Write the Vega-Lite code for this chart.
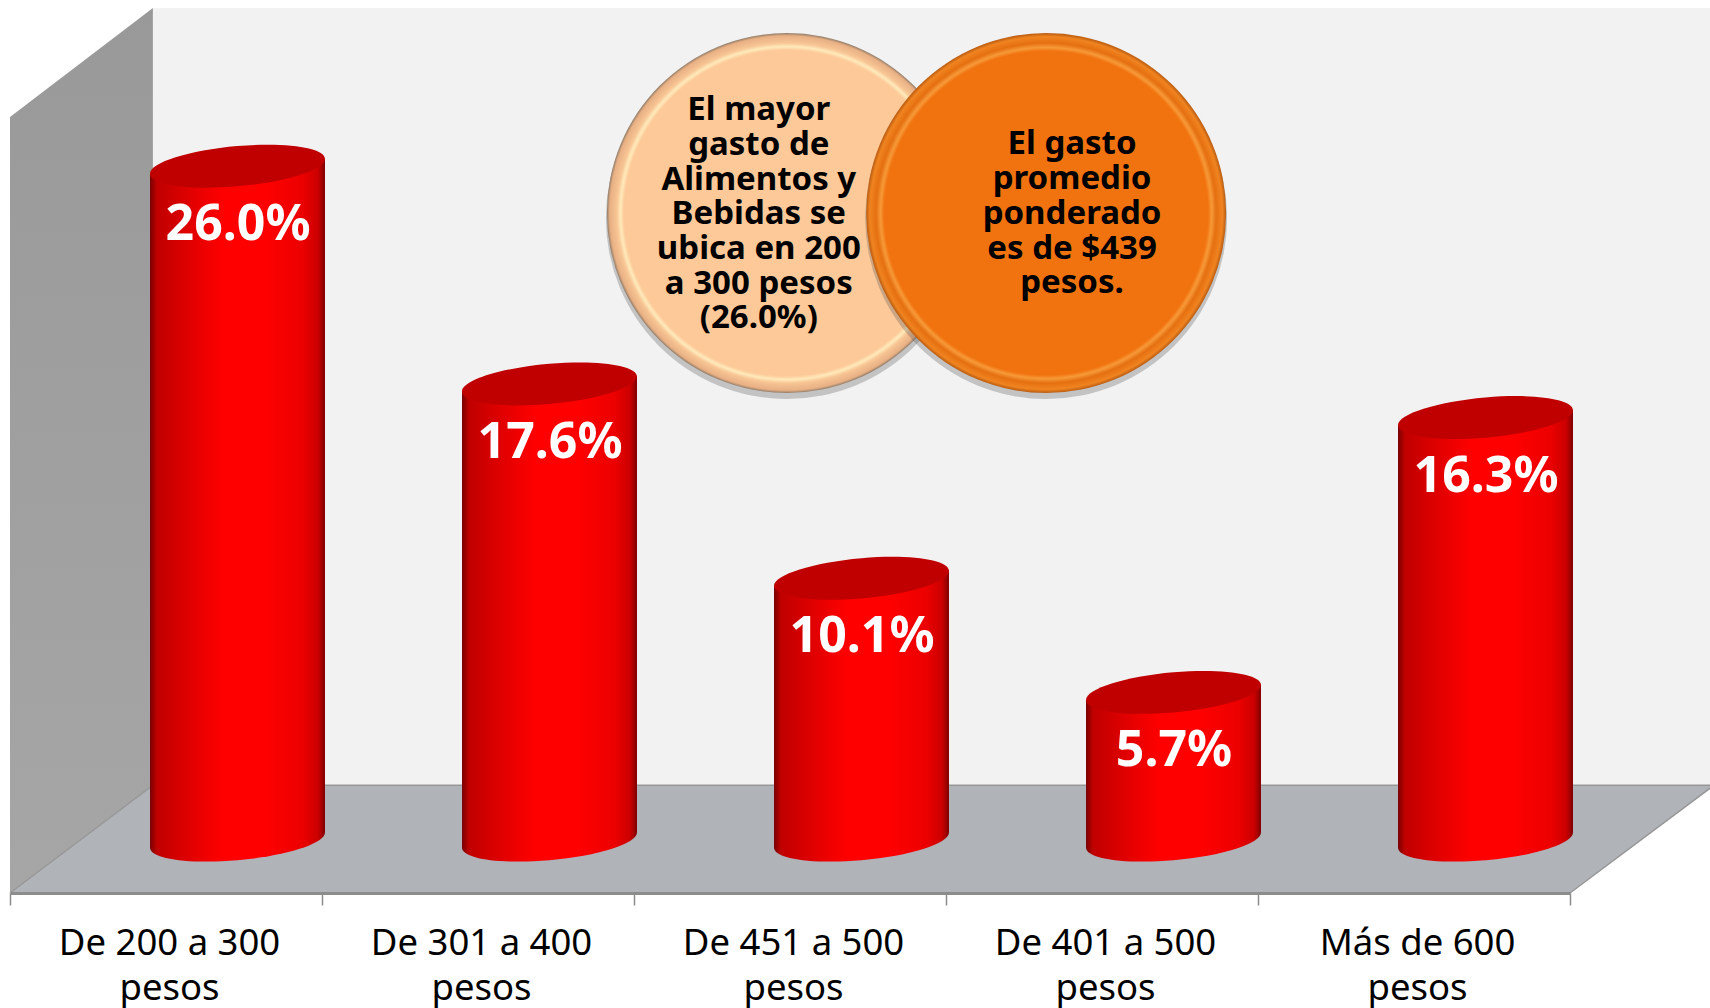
{
"$schema":"https://vega.github.io/schema/vega-lite/v6.json",
"autosize":"none","width":1710,"height":893,
"padding":{"left":0,"top":0,"right":0,"bottom":115},
"background":"white",
"config":{"view":{"stroke":null}},
"datasets":{
"bars":[{"rango":"De 200 a 300 pesos","pct":26.0,"etiqueta":"26.0%"},{"rango":"De 301 a 400 pesos","pct":17.6,"etiqueta":"17.6%"},{"rango":"De 451 a 500 pesos","pct":10.1,"etiqueta":"10.1%"},{"rango":"De 401 a 500 pesos","pct":5.7,"etiqueta":"5.7%"},{"rango":"Más de 600 pesos","pct":16.3,"etiqueta":"16.3%"}],
"backwall":[{"u":0.458,"top":32.1,"bottom":2.12},{"u":5.462,"top":32.1,"bottom":2.12}],
"sidewall":[{"u":0,"top":27.9,"bottom":-2.04},{"u":0.458,"top":32.1,"bottom":2.12}],
"floor":[{"u":0,"top":-2.04,"bottom":-2.04},{"u":0.458,"top":2.12,"bottom":-2.04},{"u":5,"top":2.12,"bottom":-2.04},{"u":5.462,"top":2.12,"bottom":2.12}],
"edges":[{"e":"a","u":0,"v":-2.04},{"e":"a","u":0.458,"v":2.12},{"e":"a","u":5.462,"v":2.12},{"e":"b","u":5,"v":-2.04},{"e":"b","u":5.462,"v":2.12}],
"b1":[{"u":2.49,"v":24.19}],
"b2":[{"u":3.321,"v":24.19}],
"t1":[{"u":2.4,"v":27.77,"txt":["El mayor","gasto de","Alimentos y","Bebidas se","ubica en 200","a 300 pesos","(26.0%)"]}],
"t2":[{"u":3.404,"v":26.45,"txt":["El gasto","promedio","ponderado","es de $439","pesos."]}]
},
"layer":[
{"data":{"name":"backwall"},"mark":{"type":"area","fill":"#f2f2f2"},
 "encoding":{"x":{"field":"u","type":"quantitative","axis":null,"scale":{"domain":[0,5],"range":[10,1570],"nice":false,"zero":false}},
 "y":{"field":"top","type":"quantitative","axis":null,"scale":{"domain":[-2.04,32.41],"nice":false,"zero":false}},"y2":{"field":"bottom"}}},
{"data":{"name":"sidewall"},"mark":{"type":"area","fill":{"gradient":"linear","x1":0,"y1":0,"x2":0,"y2":1,"stops":[{"offset":0,"color":"#999999"},{"offset":1,"color":"#a6a6a6"}]}},
 "encoding":{"x":{"field":"u","type":"quantitative","axis":null,"scale":{"domain":[0,5],"range":[10,1570],"nice":false,"zero":false}},
 "y":{"field":"top","type":"quantitative","axis":null},"y2":{"field":"bottom"}}},
{"data":{"name":"floor"},"mark":{"type":"area","fill":"#b0b3b8"},
 "encoding":{"x":{"field":"u","type":"quantitative","axis":null,"scale":{"domain":[0,5],"range":[10,1570],"nice":false,"zero":false}},
 "y":{"field":"top","type":"quantitative","axis":null},"y2":{"field":"bottom"}}},
{"data":{"name":"edges"},"mark":{"type":"line","stroke":"#979797","strokeWidth":1.5},
 "encoding":{"x":{"field":"u","type":"quantitative","axis":null,"scale":{"domain":[0,5],"range":[10,1570],"nice":false,"zero":false}},
 "y":{"field":"v","type":"quantitative","axis":null},"detail":{"field":"e"}}},
{"data":{"name":"bars"},"mark":{"type":"bar","width":175,"xOffset":71.5,"yOffset":8,"y2Offset":-10,
  "fill":{"gradient":"linear","x1":0,"y1":0,"x2":1,"y2":0,"stops":[{"offset":0,"color":"#7a0000"},{"offset":0.04,"color":"#c00000"},{"offset":0.2,"color":"#dc0000"},{"offset":0.42,"color":"#ff0000"},{"offset":0.65,"color":"#ff0000"},{"offset":0.87,"color":"#ec0000"},{"offset":0.96,"color":"#cc0000"},{"offset":1,"color":"#800000"}]}},
 "encoding":{"x":{"field":"rango","type":"nominal","sort":null,"scale":{"range":[10,1570],"paddingInner":0,"paddingOuter":0},
   "axis":{"title":null,"zindex":1,"tickBand":"extent","labelAngle":0,"domainColor":"#8c8c8c","domainWidth":3,"tickColor":"#8c8c8c","tickWidth":1.5,"tickSize":12,"labelFont":"Noto Sans","labelFontSize":36.5,"labelColor":"#000000","labelPadding":20,"labelLineHeight":45,"labelOffset":3,"labelLimit":500,"labelOverlap":false,"labelBound":false,"labelExpr":"datum.label ? [slice(datum.label,0,-6),'pesos'] : ''"}},
  "y":{"field":"pct","type":"quantitative","axis":null},"y2":{"datum":0}}},
{"data":{"name":"bars"},"mark":{"type":"point","filled":true,"opacity":1,"size":30625,"xOffset":71.5,"shape":"M-1,-0.3L1,-0.3L1,-0.086C1,0.041,0.552,0.1825,0,0.23C-0.552,0.2775,-1,0.213,-1,0.086Z",
  "fill":{"gradient":"linear","x1":0,"y1":0,"x2":1,"y2":0,"stops":[{"offset":0,"color":"#7a0000"},{"offset":0.04,"color":"#c00000"},{"offset":0.2,"color":"#dc0000"},{"offset":0.42,"color":"#ff0000"},{"offset":0.65,"color":"#ff0000"},{"offset":0.87,"color":"#ec0000"},{"offset":0.96,"color":"#cc0000"},{"offset":1,"color":"#800000"}]}},
 "encoding":{"x":{"field":"rango","type":"nominal","sort":null,"axis":null,"scale":{"range":[10,1570],"paddingInner":0,"paddingOuter":0}},
  "y":{"datum":0,"type":"quantitative","axis":null}}},
{"data":{"name":"bars"},"mark":{"type":"point","filled":true,"opacity":1,"size":30625,"xOffset":71.5,"shape":"M-1,0.086L1,-0.086L1,0.3L-1,0.3Z",
  "fill":{"gradient":"linear","x1":0,"y1":0,"x2":1,"y2":0,"stops":[{"offset":0,"color":"#7a0000"},{"offset":0.04,"color":"#c00000"},{"offset":0.2,"color":"#dc0000"},{"offset":0.42,"color":"#ff0000"},{"offset":0.65,"color":"#ff0000"},{"offset":0.87,"color":"#ec0000"},{"offset":0.96,"color":"#cc0000"},{"offset":1,"color":"#800000"}]}},
 "encoding":{"x":{"field":"rango","type":"nominal","sort":null,"axis":null,"scale":{"range":[10,1570],"paddingInner":0,"paddingOuter":0}},
  "y":{"field":"pct","type":"quantitative","axis":null}}},
{"data":{"name":"bars"},"mark":{"type":"point","filled":true,"opacity":1,"size":30625,"xOffset":71.5,"fill":"#c00000","shape":"M1,-0.086C1,0.041,0.552,0.1825,0,0.23C-0.552,0.2775,-1,0.213,-1,0.086C-1,-0.041,-0.552,-0.1825,0,-0.23C0.552,-0.2775,1,-0.213,1,-0.086Z"},
 "encoding":{"x":{"field":"rango","type":"nominal","sort":null,"axis":null,"scale":{"range":[10,1570],"paddingInner":0,"paddingOuter":0}},
  "y":{"field":"pct","type":"quantitative","axis":null}}},
{"data":{"name":"bars"},"mark":{"type":"text","font":"Noto Sans","fontWeight":"bold","fontSize":50,"color":"#ffffff","align":"center","baseline":"alphabetic","dx":72,"dy":74},
 "encoding":{"x":{"field":"rango","type":"nominal","sort":null,"axis":null,"scale":{"range":[10,1570],"paddingInner":0,"paddingOuter":0}},
  "y":{"field":"pct","type":"quantitative","axis":null},"text":{"field":"etiqueta"}}},
{"data":{"name":"b1"},"mark":{"type":"point","filled":true,"size":131000,"shape":"circle","yOffset":5,"fill":"#555555","opacity":0.3},
 "encoding":{"x":{"field":"u","type":"quantitative","axis":null,"scale":{"domain":[0,5],"range":[10,1570],"nice":false,"zero":false}},"y":{"field":"v","type":"quantitative","axis":null}}},
{"data":{"name":"b1"},"mark":{"type":"point","filled":true,"opacity":1,"size":129600,"shape":"circle",
  "fill":{"gradient":"radial","x1":0.5,"y1":0.5,"r1":0,"x2":0.5,"y2":0.5,"r2":0.5,"stops":[{"offset":0,"color":"#fdc998"},{"offset":0.905,"color":"#fdc998"},{"offset":0.925,"color":"#ffeabb"},{"offset":0.945,"color":"#f8c594"},{"offset":0.985,"color":"#e8b084"},{"offset":1,"color":"#8f7b68"}]}},
 "encoding":{"x":{"field":"u","type":"quantitative","axis":null,"scale":{"domain":[0,5],"range":[10,1570],"nice":false,"zero":false}},"y":{"field":"v","type":"quantitative","axis":null}}},
{"data":{"name":"b2"},"mark":{"type":"point","filled":true,"size":131000,"shape":"circle","yOffset":5,"fill":"#555555","opacity":0.3},
 "encoding":{"x":{"field":"u","type":"quantitative","axis":null,"scale":{"domain":[0,5],"range":[10,1570],"nice":false,"zero":false}},"y":{"field":"v","type":"quantitative","axis":null}}},
{"data":{"name":"b2"},"mark":{"type":"point","filled":true,"opacity":1,"size":129600,"shape":"circle",
  "fill":{"gradient":"radial","x1":0.5,"y1":0.5,"r1":0,"x2":0.5,"y2":0.5,"r2":0.5,"stops":[{"offset":0,"color":"#f1730f"},{"offset":0.9,"color":"#f1730f"},{"offset":0.92,"color":"#f79a38"},{"offset":0.945,"color":"#e56f10"},{"offset":0.98,"color":"#f08420"},{"offset":1,"color":"#b85a10"}]}},
 "encoding":{"x":{"field":"u","type":"quantitative","axis":null,"scale":{"domain":[0,5],"range":[10,1570],"nice":false,"zero":false}},"y":{"field":"v","type":"quantitative","axis":null}}},
{"data":{"name":"t1"},"mark":{"type":"text","font":"Noto Sans","fontWeight":"bold","fontSize":33,"lineHeight":34.7,"color":"#000000","align":"center","baseline":"alphabetic"},
 "encoding":{"x":{"field":"u","type":"quantitative","axis":null,"scale":{"domain":[0,5],"range":[10,1570],"nice":false,"zero":false}},"y":{"field":"v","type":"quantitative","axis":null},"text":{"field":"txt"}}},
{"data":{"name":"t2"},"mark":{"type":"text","font":"Noto Sans","fontWeight":"bold","fontSize":33,"lineHeight":34.7,"color":"#000000","align":"center","baseline":"alphabetic"},
 "encoding":{"x":{"field":"u","type":"quantitative","axis":null,"scale":{"domain":[0,5],"range":[10,1570],"nice":false,"zero":false}},"y":{"field":"v","type":"quantitative","axis":null},"text":{"field":"txt"}}}
],
"resolve":{"scale":{"x":"independent"}}
}
